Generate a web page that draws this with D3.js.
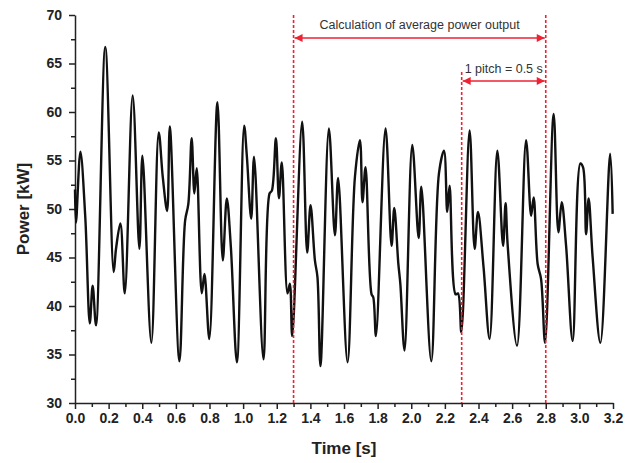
<!DOCTYPE html>
<html>
<head>
<meta charset="utf-8">
<script src="https://cdn.jsdelivr.net/npm/d3@7"></script>
<style>
  body { margin: 0; background: #fff; }
  .axis text { font-family: Arial, "Liberation Sans", sans-serif; font-weight: bold; font-size: 14px; fill: #222; }
  .axis path, .axis line { stroke: #222; stroke-width: 1.5; }
</style>
</head>
<body>
<script>
var width = 635,
    height = 463,
    margin = {top: 15, right: 22, bottom: 60, left: 75};

// time [s]
var time = [0.000, 0.006, 0.032, 0.061, 0.088, 0.105, 0.125, 0.180, 0.230, 0.244,
            0.270, 0.296, 0.343, 0.383, 0.401, 0.454, 0.498, 0.522, 0.548, 0.564,
            0.621, 0.655, 0.674, 0.694, 0.710, 0.724, 0.754, 0.770, 0.799, 0.847,
            0.879, 0.903, 0.927, 0.963, 1.006, 1.022, 1.048, 1.065, 1.121, 1.157,
            1.171, 1.195, 1.213, 1.230, 1.264, 1.278, 1.292, 1.351, 1.381, 1.401,
            1.427, 1.442, 1.460, 1.510, 1.546, 1.565, 1.621, 1.665, 1.695, 1.710,
            1.728, 1.764, 1.774, 1.790, 1.847, 1.883, 1.899, 1.923, 1.935, 1.960,
            2.006, 2.044, 2.060, 2.119, 2.165, 2.195, 2.214, 2.228, 2.264, 2.278,
            2.298, 2.347, 2.377, 2.397, 2.430, 2.466, 2.512, 2.546, 2.561, 2.573,
            2.629, 2.683, 2.713, 2.728, 2.752, 2.772, 2.796, 2.847, 2.875, 2.895,
            2.921, 2.960, 3.006, 3.022, 3.040, 3.055, 3.079, 3.125, 3.183, 3.198];

// power [kW]
var power = [52.0, 48.6, 55.9, 49.2, 38.2, 42.1, 38.0, 66.7, 43.5, 45.9,
             48.5, 41.3, 61.7, 45.9, 55.5, 36.2, 57.9, 53.3, 49.8, 58.5,
             34.3, 48.8, 50.5, 57.3, 51.6, 54.2, 41.3, 43.3, 36.6, 61.0,
             44.7, 51.1, 46.1, 34.2, 58.6, 55.5, 49.0, 55.4, 34.5, 51.6,
             51.9, 57.3, 51.1, 54.8, 41.3, 42.3, 36.9, 59.0, 45.5, 50.4,
             44.7, 43.0, 33.8, 58.3, 47.3, 53.2, 34.2, 53.3, 57.1, 50.7,
             54.3, 41.2, 40.9, 36.9, 58.3, 46.2, 50.1, 44.4, 42.3, 35.4,
             56.6, 47.0, 52.3, 34.3, 53.7, 56.0, 49.7, 52.4, 41.2, 41.3,
             37.3, 58.1, 45.9, 49.7, 44.0, 36.6, 56.0, 46.2, 50.6, 46.4,
             35.9, 57.1, 49.3, 51.2, 44.3, 42.8, 36.2, 59.8, 47.6, 50.7,
             46.2, 36.4, 54.7, 54.3, 47.4, 51.1, 45.0, 36.2, 55.7, 49.5];

var xTicks = d3.range(0, 3.21, 0.2);
var yTicks = [30, 35, 40, 45, 50, 55, 60, 65, 70];

// annotation markers (time)
var avgStart = 1.3, avgEnd = 2.8, pitchStart = 2.3;

var data = time.map(function(t, i) { return {t: t, p: power[i]}; });

var svg = d3.select("body").append("svg")
    .attr("width", width)
    .attr("height", height);

var x = d3.scaleLinear().domain([0, 3.2]).range([margin.left, width - margin.right]);
var y = d3.scaleLinear().domain([30, 70]).range([height - margin.bottom, margin.top]);

// minor ticks
svg.append("g")
    .attr("class", "axis")
    .attr("transform", "translate(0," + y(30) + ")")
    .call(d3.axisBottom(x).tickValues(d3.range(0.1, 3.2, 0.2)).tickSize(4).tickFormat(""))
    .select(".domain").remove();
svg.append("g")
    .attr("class", "axis")
    .attr("transform", "translate(" + x(0) + ",0)")
    .call(d3.axisLeft(y).tickValues(d3.range(32.5, 70, 5)).tickSize(4).tickFormat(""))
    .select(".domain").remove();

svg.append("g")
    .attr("class", "axis")
    .attr("transform", "translate(0," + y(30) + ")")
    .call(d3.axisBottom(x).tickValues(xTicks).tickSize(6).tickSizeOuter(0).tickPadding(4).tickFormat(d3.format(".1f")));

svg.append("g")
    .attr("class", "axis")
    .attr("transform", "translate(" + x(0) + ",0)")
    .call(d3.axisLeft(y).tickValues(yTicks).tickSize(6).tickSizeOuter(0).tickPadding(7));

// axis titles
svg.append("text")
    .attr("x", (x(0) + x(3.2)) / 2)
    .attr("y", 454)
    .attr("text-anchor", "middle")
    .style("font-family", "Arial, 'Liberation Sans', sans-serif")
    .style("font-weight", "bold")
    .style("font-size", "17px")
    .style("fill", "#222")
    .text("Time [s]");

svg.append("text")
    .attr("transform", "translate(29," + y(50) + ") rotate(-90)")
    .attr("text-anchor", "middle")
    .style("font-family", "Arial, 'Liberation Sans', sans-serif")
    .style("font-weight", "bold")
    .style("font-size", "17px")
    .style("fill", "#222")
    .text("Power [kW]");

// power curve
var line = d3.line()
    .x(function(d) { return x(d.t); })
    .y(function(d) { return y(d.p); })
    .curve(d3.curveCatmullRom.alpha(0.5));

svg.append("path")
    .datum(data)
    .attr("fill", "none")
    .attr("stroke", "#111")
    .attr("stroke-width", 2.4)
    .attr("stroke-linejoin", "round")
    .attr("d", line);

// annotations
var red = "#ee2233";

var defs = svg.append("defs");
defs.append("marker")
    .attr("id", "arrow")
    .attr("viewBox", "0 0 10 10")
    .attr("refX", 10).attr("refY", 5)
    .attr("markerWidth", 11).attr("markerHeight", 8)
    .attr("markerUnits", "userSpaceOnUse")
    .attr("orient", "auto-start-reverse")
    .append("path")
    .attr("d", "M0,0L10,5L0,10z")
    .attr("fill", red);

[[avgStart, 15], [pitchStart, 72], [avgEnd, 15]].forEach(function(v) {
    svg.append("line")
        .attr("x1", x(v[0])).attr("x2", x(v[0]))
        .attr("y1", v[1]).attr("y2", y(30))
        .attr("stroke", red)
        .attr("stroke-width", 1.6)
        .attr("stroke-dasharray", "3,2");
});

function arrow(t0, t1, yy, label, ty) {
    svg.append("line")
        .attr("x1", x(t0) + 1).attr("x2", x(t1) - 1)
        .attr("y1", yy).attr("y2", yy)
        .attr("stroke", red)
        .attr("stroke-width", 1.4)
        .attr("marker-start", "url(#arrow)")
        .attr("marker-end", "url(#arrow)");
    svg.append("text")
        .attr("x", (x(t0) + x(t1)) / 2)
        .attr("y", ty)
        .attr("text-anchor", "middle")
        .style("font-family", "Arial, 'Liberation Sans', sans-serif")
        .style("font-size", "12.5px")
        .style("fill", "#333")
        .text(label);
}

arrow(avgStart, avgEnd, 38, "Calculation of average power output", 29);
arrow(pitchStart, avgEnd, 81, "1 pitch = 0.5 s", 73);
</script>
</body>
</html>
